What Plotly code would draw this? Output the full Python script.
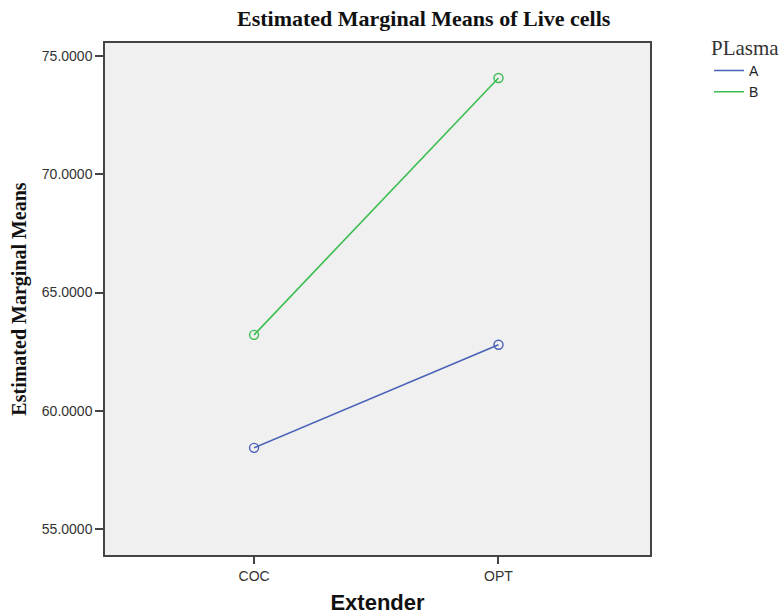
import plotly.graph_objects as go

categories = ["COC", "OPT"]
plasma_A = [58.43, 62.79]
plasma_B = [63.21, 74.07]
series_names = ["A", "B"]
colors = ["#4a62b8", "#3cbd50"]
y_ticks = [55, 60, 65, 70, 75]
y_tick_labels = ["55.0000", "60.0000", "65.0000", "70.0000", "75.0000"]

fig = go.Figure()
for name, vals, col in zip(series_names, [plasma_A, plasma_B], colors):
    fig.add_trace(go.Scatter(
        x=categories, y=vals, mode="lines+markers", name=name,
        line=dict(color=col, width=1.6),
        marker=dict(symbol="circle-open", size=9, color=col, line=dict(width=1.4)),
        showlegend=False,
    ))
for name, col in zip(series_names, colors):
    fig.add_trace(go.Scatter(
        x=[None], y=[None], mode="lines", name=name,
        line=dict(color=col, width=1.6), showlegend=True,
    ))

L, R, T, B = 105, 132, 43, 60
W, H = 782, 615
pw = W - L - R
serif = "Liberation Serif, Times New Roman, serif"
sans = "Liberation Sans, Arial, sans-serif"

fig.update_layout(
    width=W, height=H,
    margin=dict(l=L, r=R, t=T, b=B, autoexpand=False),
    paper_bgcolor="white",
    plot_bgcolor="#f0f0f0",
    font=dict(family=sans, size=14, color="#333333"),
    legend=dict(
        title=dict(text="PLasma", font=dict(family=serif, size=21, color="#333333")),
        x=(709 - L) / pw, y=1.03, xanchor="left", yanchor="top",
        bgcolor="rgba(0,0,0,0)", itemwidth=30,
        font=dict(family=sans, size=14, color="#222222"),
        tracegroupgap=0,
    ),
    annotations=[
        dict(text="<b>Estimated Marginal Means of Live cells</b>",
             x=(424 - L) / pw, y=1.0, xref="paper", yref="paper",
             xanchor="center", yanchor="bottom", yshift=10, showarrow=False,
             font=dict(family=serif, size=22, color="#111111")),
    ],
)
fig.update_xaxes(
    type="category", range=[-0.61, 1.62], automargin=False,
    showline=True, linecolor="#444444", linewidth=1.5, mirror=True,
    ticks="outside", ticklen=7, tickcolor="#444444", tickwidth=1.5,
    showgrid=False, zeroline=False,
    tickfont=dict(size=14),
    title=dict(text="<b>Extender</b>", font=dict(family=sans, size=22, color="#111111"), standoff=12),
)
fig.update_yaxes(
    range=[53.9, 75.55], automargin=False,
    tickvals=y_ticks, ticktext=y_tick_labels,
    showline=True, linecolor="#444444", linewidth=1.5, mirror=True,
    ticks="outside", ticklen=8, tickcolor="#444444", tickwidth=1.5,
    showgrid=False, zeroline=False,
    tickfont=dict(size=14),
    title=dict(text="<b>Estimated Marginal Means</b>", font=dict(family=serif, size=20, color="#111111"), standoff=10),
)

fig.write_html("out.html")
